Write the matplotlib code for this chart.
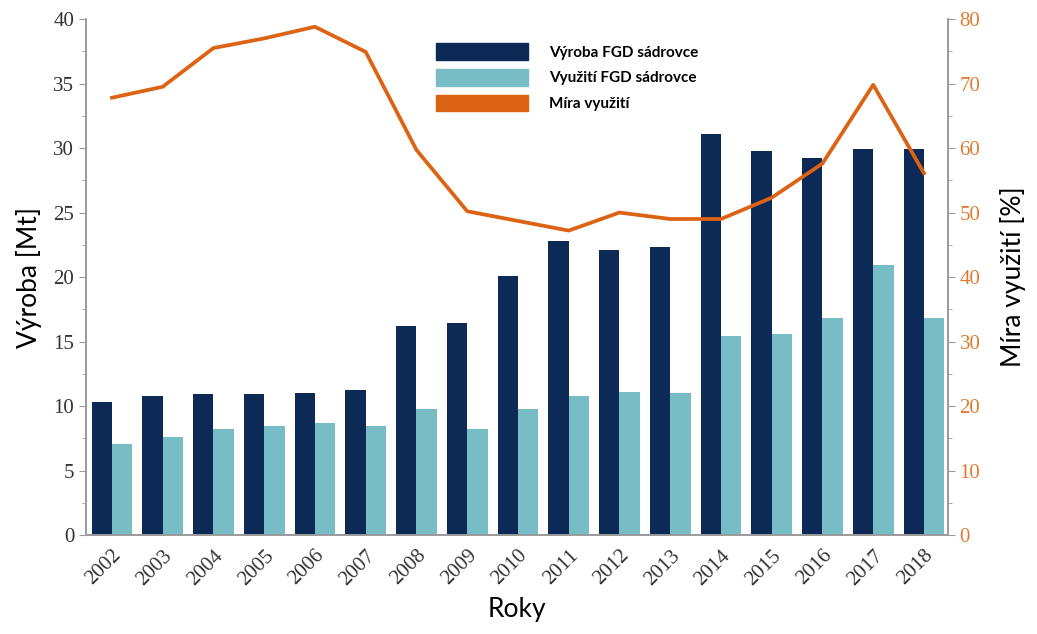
import numpy as np
import matplotlib.pyplot as plt
from matplotlib.patches import Patch
from matplotlib.ticker import MultipleLocator

# data
roky = ['2002', '2003', '2004', '2005', '2006', '2007', '2008', '2009', '2010',
        '2011', '2012', '2013', '2014', '2015', '2016', '2017', '2018']
vyroba = [10.3, 10.8, 10.9, 10.9, 11.05, 11.25, 16.2, 16.45, 20.1,
          22.8, 22.1, 22.3, 31.1, 29.75, 29.25, 29.95, 29.95]
vyuziti = [7.05, 7.6, 8.25, 8.45, 8.7, 8.45, 9.75, 8.2, 9.8,
           10.8, 11.1, 11.0, 15.4, 15.6, 16.85, 20.9, 16.8]
mira = [67.8, 69.5, 75.5, 77.0, 78.8, 74.9, 59.7, 50.2, 48.7,
        47.2, 50.0, 49.0, 49.0, 52.3, 57.6, 69.8, 56.1]

c_tmava = '#0c2a55'
c_svetla = '#78bcc5'
c_oranz = '#dd6314'
c_osa = '#9a9a9a'

x = np.arange(len(roky))
sirka = 0.4

fig = plt.figure(figsize=(10.37, 6.34), dpi=100)
ax = fig.add_axes([0.083, 0.156, 0.831, 0.814])
ax2 = ax.twinx()

ax.bar(x - sirka / 2, vyroba, sirka, color=c_tmava)
ax.bar(x + sirka / 2, vyuziti, sirka, color=c_svetla)
ax2.plot(x, mira, color=c_oranz, lw=2.7)

ax.set_xlim(-0.51, 16.47)
ax.set_ylim(0, 40)
ax2.set_ylim(0, 80)

ax.yaxis.set_major_locator(MultipleLocator(5))
ax.yaxis.set_minor_locator(MultipleLocator(2.5))
ax2.yaxis.set_major_locator(MultipleLocator(10))
ax2.yaxis.set_minor_locator(MultipleLocator(5))

for a in (ax, ax2):
    a.spines['top'].set_visible(False)
    for s in ('left', 'right', 'bottom'):
        a.spines[s].set_color(c_osa)
        a.spines[s].set_linewidth(1.2)

ax.set_xticks(x)
ax.set_xticklabels(roky, rotation=45, ha='right', rotation_mode='anchor',
                   family='Liberation Serif', fontsize=15, color='#333333')
ax.tick_params(axis='x', length=0, pad=8)
ax.tick_params(axis='y', which='major', length=5, color=c_osa, labelsize=15,
               labelcolor='#333333')
ax.tick_params(axis='y', which='minor', length=3, color=c_osa)
for t in ax.get_yticklabels():
    t.set_family('Liberation Serif')

ax2.tick_params(axis='y', which='major', length=5, color=c_osa, labelsize=15,
                labelcolor='#e07a30')
ax2.tick_params(axis='y', which='minor', length=3, color=c_osa)
for t in ax2.get_yticklabels():
    t.set_family('Liberation Serif')

ax.set_ylabel('Výroba [Mt]', family='Lato', fontsize=19, labelpad=8)
ax2.set_ylabel('Míra využití [%]', family='Lato', fontsize=19, labelpad=14)
ax.set_xlabel('Roky', family='Lato', fontsize=19, labelpad=6)

handles = [Patch(color=c_tmava), Patch(color=c_svetla), Patch(color=c_oranz)]
labels = ['Výroba FGD sádrovce', 'Využití FGD sádrovce', 'Míra využití']
ax2.legend(handles, labels, loc='upper left', bbox_to_anchor=(0.39, 0.98),
           frameon=False, handlelength=6.0, handleheight=1.3, handletextpad=1.4,
           labelspacing=0.6, prop={'family': 'Lato', 'weight': 'bold', 'size': 11})

fig.savefig('out.png', dpi=100)
